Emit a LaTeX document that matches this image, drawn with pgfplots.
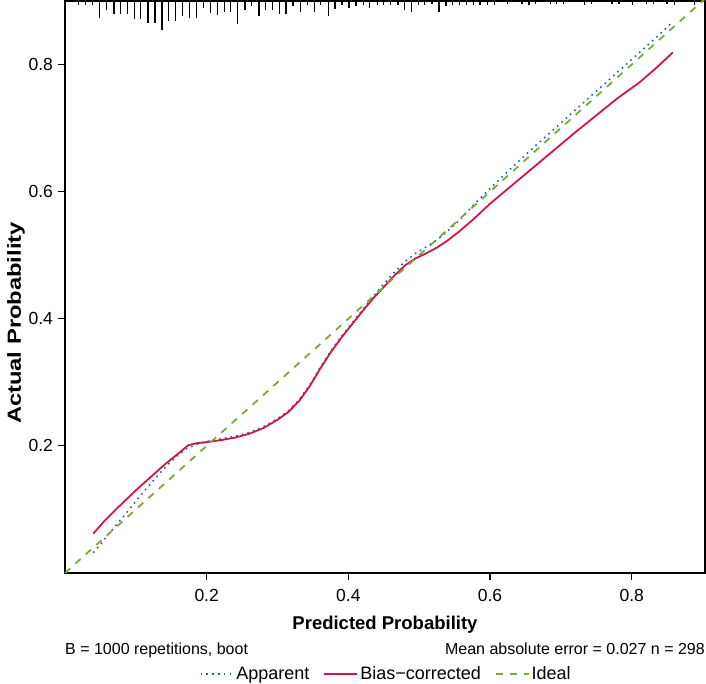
\documentclass[border=0pt]{standalone}
\usepackage{fontspec}
\setmainfont{Liberation Sans}
\usepackage{graphicx}
\usepackage{pgfplots}
\pgfplotsset{compat=1.18}
\usepackage{pgfplotstable}

\definecolor{appblue}{RGB}{32,100,170}
\definecolor{bcred}{RGB}{210,22,68}
\definecolor{idgreen}{RGB}{120,170,60}

% rug of predicted probabilities (x, top, tick length)
\pgfplotstableread{
x y v
0.019 0.9 -0.0060
0.029 0.9 -0.0060
0.039 0.9 -0.0060
0.049 0.9 -0.0268
0.059 0.9 -0.0142
0.069 0.9 -0.0205
0.078 0.9 -0.0205
0.088 0.9 -0.0205
0.098 0.9 -0.0283
0.107 0.9 -0.0283
0.117 0.9 -0.0346
0.127 0.9 -0.0346
0.137 0.9 -0.0457
0.146 0.9 -0.0315
0.156 0.9 -0.0315
0.166 0.9 -0.0236
0.176 0.9 -0.0268
0.186 0.9 -0.0268
0.196 0.9 -0.0110
0.205 0.9 -0.0189
0.215 0.9 -0.0220
0.225 0.9 -0.0173
0.234 0.9 -0.0173
0.244 0.9 -0.0362
0.254 0.9 -0.0142
0.263 0.9 -0.0079
0.274 0.9 -0.0236
0.283 0.9 -0.0142
0.293 0.9 -0.0142
0.303 0.9 -0.0205
0.312 0.9 -0.0205
0.322 0.9 -0.0079
0.332 0.9 -0.0173
0.342 0.9 -0.0060
0.352 0.9 -0.0173
0.361 0.9 -0.0060
0.372 0.9 -0.0236
0.381 0.9 -0.0126
0.391 0.9 -0.0060
0.401 0.9 -0.0110
0.411 0.9 -0.0079
0.421 0.9 -0.0060
0.430 0.9 -0.0110
0.441 0.9 -0.0060
0.450 0.9 -0.0060
0.460 0.9 -0.0060
0.470 0.9 -0.0060
0.479 0.9 -0.0142
0.489 0.9 -0.0173
0.499 0.9 -0.0060
0.508 0.9 -0.0060
0.518 0.9 -0.0050
0.528 0.9 -0.0173
0.538 0.9 -0.0079
0.547 0.9 -0.0060
0.557 0.9 -0.0060
0.567 0.9 -0.0060
0.577 0.9 -0.0060
0.586 0.9 -0.0060
0.596 0.9 -0.0060
0.606 0.9 -0.0060
0.625 0.9 -0.0040
0.645 0.9 -0.0040
0.655 0.9 -0.0060
0.664 0.9 -0.0040
0.685 0.9 -0.0040
0.694 0.9 -0.0040
0.704 0.9 -0.0040
0.733 0.9 -0.0060
0.743 0.9 -0.0040
0.772 0.9 -0.0040
0.782 0.9 -0.0040
0.801 0.9 -0.0060
0.821 0.9 -0.0040
0.831 0.9 -0.0040
0.850 0.9 -0.0040
0.860 0.9 -0.0060
0.889 0.9 -0.0060
}\rugdata

\pgfplotstableread{
x y
0.040 0.032
0.050 0.045
0.063 0.063
0.075 0.079
0.087 0.095
0.100 0.113
0.115 0.133
0.130 0.152
0.143 0.168
0.157 0.183
0.172 0.196
0.190 0.204
0.205 0.208
0.220 0.211
0.240 0.215
0.260 0.221
0.280 0.230
0.300 0.243
0.315 0.255
0.330 0.272
0.345 0.295
0.360 0.323
0.375 0.349
0.390 0.372
0.405 0.393
0.420 0.414
0.435 0.435
0.450 0.455
0.465 0.473
0.480 0.490
0.495 0.503
0.510 0.513
0.525 0.524
0.540 0.538
0.555 0.553
0.575 0.577
0.600 0.605
0.630 0.637
0.660 0.668
0.690 0.698
0.720 0.728
0.750 0.758
0.780 0.788
0.810 0.818
0.835 0.843
0.855 0.864
}\apparent

\pgfplotstableread{
x y
0.040 0.062
0.055 0.081
0.070 0.098
0.085 0.114
0.100 0.130
0.120 0.150
0.140 0.170
0.160 0.188
0.174 0.201
0.185 0.204
0.200 0.206
0.220 0.209
0.240 0.213
0.260 0.219
0.280 0.228
0.300 0.241
0.315 0.253
0.330 0.270
0.345 0.293
0.360 0.321
0.375 0.347
0.390 0.370
0.405 0.391
0.420 0.412
0.435 0.432
0.450 0.450
0.465 0.468
0.480 0.484
0.495 0.495
0.510 0.503
0.525 0.512
0.540 0.523
0.555 0.536
0.575 0.555
0.600 0.581
0.630 0.609
0.660 0.637
0.690 0.665
0.720 0.693
0.750 0.720
0.780 0.747
0.810 0.771
0.835 0.795
0.858 0.819
}\biascorr

\begin{document}
\begin{tikzpicture}
\begin{axis}[
  scale only axis, width=640pt, height=572pt,
  xmin=0, xmax=0.9035, ymin=0, ymax=0.9,
  axis line style={line width=1.3pt},
  xtick={0.2,0.4,0.6,0.8}, ytick={0.2,0.4,0.6,0.8},
  tick pos=left, tick align=outside, major tick length=7pt,
  tick style={line width=1.2pt, black},
  /pgf/number format/.cd, fixed, fixed zerofill, precision=1, assume math mode=true,
  /pgfplots/.cd,
  xticklabel style={font=\fontsize{17.5}{20}\selectfont},
  yticklabel style={font=\fontsize{17.5}{20}\selectfont},
  xticklabel shift=6pt, yticklabel shift=1.5pt,
  legend columns=3,
  legend style={draw=none, fill=none, at={(axis description cs:0.502,-0.1766)}, anchor=center,
    font=\fontsize{18}{21}\selectfont},
  legend image code/.code={\draw[#1] (0pt,0pt) -- (33pt,0pt);},
]
\addplot[appblue, line width=1.6pt, dash pattern=on 1.6pt off 4.2pt] table {\apparent};
\addlegendentry{Apparent\rule{12pt}{0pt}}
\addplot[bcred, line width=1.8pt] table {\biascorr};
\addlegendentry{Bias\textminus corrected\rule{12pt}{0pt}}
\addplot[idgreen, line width=1.8pt, dash pattern=on 7pt off 7pt] coordinates {(0,0) (1,1)};
\addlegendentry{Ideal}
\addplot[forget plot, black, line width=1.3pt, quiver={u=0, v=\thisrow{v}}] table {\rugdata};

\coordinate (bl) at (rel axis cs:0,0);
\coordinate (br) at (rel axis cs:1,0);
\coordinate (tr) at (rel axis cs:1,1);
\coordinate (bc) at (rel axis cs:0.5,0);
\coordinate (lc) at (rel axis cs:0,0.437);
\end{axis}
\node[anchor=base, font=\fontsize{18.5}{21}\selectfont\bfseries] at ([yshift=-56.5pt]bc) {Predicted Probability};
\node[anchor=base, rotate=90, font=\fontsize{19}{22}\selectfont\bfseries] at ([xshift=-44pt]lc) {\scalebox{1.25}[1]{Actual Probability}};
\node[anchor=base west, inner sep=0pt, font=\fontsize{16}{19}\selectfont] at ([yshift=-82pt]bl) {B = 1000 repetitions, boot};
\node[anchor=base east, inner sep=0pt, font=\fontsize{16}{19}\selectfont] at ([yshift=-82pt]br) {Mean absolute error = 0.027 n = 298};
\pgfresetboundingbox
\useasboundingbox ([xshift=-65pt,yshift=-111pt]bl) rectangle ([xshift=1pt,yshift=1pt]tr);
\end{tikzpicture}
\end{document}
